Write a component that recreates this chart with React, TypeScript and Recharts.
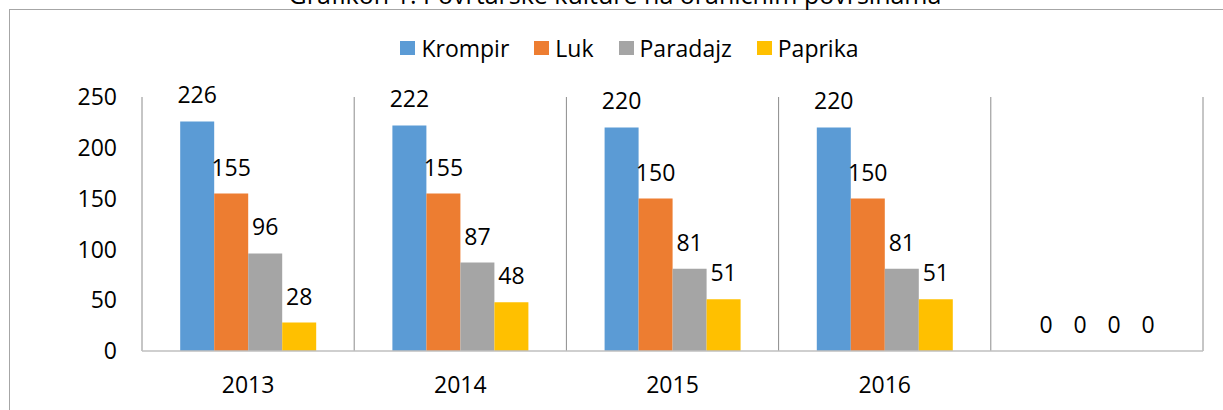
import React from 'react';
import { BarChart, Bar, XAxis, YAxis, CartesianGrid, Legend, LabelList } from 'recharts';

const TITLE = 'Grafikon 1: Povrtarske kulture na oraničnim površinama';
const years = ['2013', '2014', '2015', '2016', ''];
const krompir = [226, 222, 220, 220, 0];
const luk = [155, 155, 150, 150, 0];
const paradajz = [96, 87, 81, 81, 0];
const paprika = [28, 48, 51, 51, 0];
const yTicks = [0, 50, 100, 150, 200, 250];

const series = [
  { key: 'Krompir', values: krompir, color: '#5B9BD5' },
  { key: 'Luk', values: luk, color: '#ED7D31' },
  { key: 'Paradajz', values: paradajz, color: '#A5A5A5' },
  { key: 'Paprika', values: paprika, color: '#FFC000' },
];

const data = years.map((y, i) => {
  const row: Record<string, string | number> = { year: y };
  series.forEach((s) => {
    row[s.key] = s.values[i];
  });
  return row;
});

const FONT = '"Open Sans", sans-serif';
const FS = 23;

const renderLegend = () => (
  <div style={{ display: 'flex', justifyContent: 'center', alignItems: 'center', height: 30, fontFamily: FONT, fontSize: FS, color: '#000' }}>
    {series.map((s, i) => (
      <div key={s.key} style={{ display: 'flex', alignItems: 'center', marginLeft: i === 0 ? 0 : 25 }}>
        <div style={{ width: 15, height: 14, background: s.color, marginRight: 6 }} />
        <span style={{ lineHeight: '30px' }}>{s.key}</span>
      </div>
    ))}
  </div>
);

const renderBarLabel = (props: any) => {
  const { x, y, width, value } = props;
  if (value === undefined || value === null) return null;
  return (
    <text
      x={Number(x) + Number(width) / 2}
      y={Number(y) - 18}
      textAnchor="middle"
      fill="#000"
      fontFamily={FONT}
      fontSize={FS}
    >
      {value}
    </text>
  );
};

export default function App() {
  return (
    <div style={{ position: 'absolute', left: 0, top: 0, width: 1223, height: 410, overflow: 'hidden', background: '#fff' }}>
      <div style={{ position: 'absolute', left: 9, top: 9, width: 1400, height: 600, border: '1px solid #A6A6A6' }} />
      <div style={{ position: 'absolute', left: 0, top: -18.2, width: 1230, textAlign: 'center', fontFamily: FONT, fontSize: 25, lineHeight: '25px', color: '#000', whiteSpace: 'nowrap' }}>
        {TITLE}
      </div>
      <div style={{ position: 'absolute', left: 0, top: 0 }}>
        <BarChart
          width={1223}
          height={410}
          data={data}
          margin={{ top: 67, right: 20, bottom: 0, left: 0 }}
          barCategoryGap="18%"
          barGap={0}
        >
          <CartesianGrid
            horizontal={false}
            vertical={true}
            stroke="#8C8C8C"
            strokeWidth={1}
            verticalCoordinatesGenerator={({ offset }: any) => {
              const n = years.length;
              const out: number[] = [];
              for (let i = 0; i <= n; i++) out.push(offset.left + (offset.width * i) / n);
              return out;
            }}
          />
          <XAxis
            dataKey="year"
            height={59}
            tickLine={false}
            tickSize={0}
            tickMargin={26}
            axisLine={{ stroke: '#BFBFBF', strokeWidth: 1.5 }}
            tick={{ fill: '#000', fontFamily: FONT, fontSize: FS }}
            interval={0}
          />
          <YAxis
            width={142}
            domain={[0, 250]}
            ticks={yTicks}
            axisLine={false}
            tickLine={false}
            tickSize={0}
            tickMargin={25}
            tick={{ fill: '#000', fontFamily: FONT, fontSize: FS }}
          />
          <Legend
            verticalAlign="top"
            align="center"
            height={30}
            wrapperStyle={{ top: 33, left: 18, width: 1223 }}
            content={renderLegend}
          />
          {series.map((s) => (
            <Bar key={s.key} dataKey={s.key} fill={s.color} minPointSize={0.01} isAnimationActive={false}>
              <LabelList dataKey={s.key} content={renderBarLabel} />
            </Bar>
          ))}
        </BarChart>
      </div>
    </div>
  );
}
